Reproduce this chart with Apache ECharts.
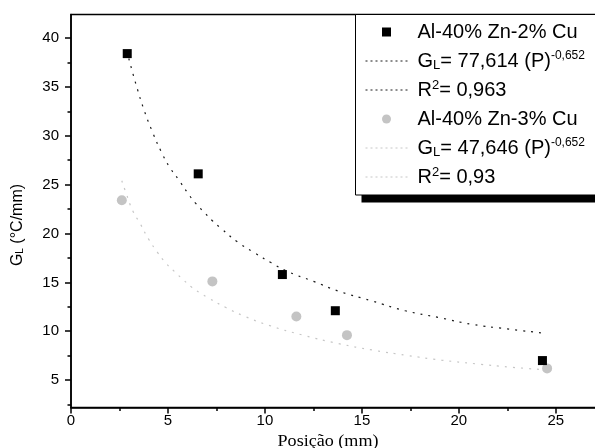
<!DOCTYPE html>
<html>
<head>
<meta charset="utf-8">
<script src="https://cdn.jsdelivr.net/npm/echarts@6/dist/echarts.min.js"></script>
<style>
html,body{margin:0;padding:0;background:#fff;}
#chart{width:595px;height:448px;}
</style>
</head>
<body>
<div id="chart"></div>
<script>
// Measured points, alloy Al-40% Zn-2% Cu
const sqX = [2.90, 6.56, 10.90, 13.63, 24.31];
const sqY = [38.4, 26.1, 15.8, 12.1, 7.0];
// Measured points, alloy Al-40% Zn-3% Cu
const ciX = [2.62, 7.29, 11.62, 14.23, 24.55];
const ciY = [23.4, 15.1, 11.5, 9.6, 6.2];
// Fitted curve, 2% Cu
const fitAX = [2.98, 3.36, 3.79, 4.24, 4.67, 5.08, 5.55, 6.00, 6.42, 6.85, 7.29, 7.75, 8.61, 9.48, 10.33, 11.19, 12.51, 13.80, 15.52, 17.24, 18.98, 20.70, 22.46, 24.23];
const fitAY = [37.9, 35.2, 32.5, 30.2, 28.3, 26.8, 25.5, 24.2, 23.1, 22.2, 21.3, 20.5, 19.1, 18.0, 17.0, 16.1, 15.1, 14.1, 13.1, 12.1, 11.4, 10.7, 10.25, 9.84];
// Fitted curve, 3% Cu
const fitBX = [2.62, 2.81, 3.19, 3.57, 4.01, 4.45, 4.88, 5.34, 5.77, 6.23, 6.67, 7.09, 8.01, 8.87, 10.21, 11.96, 13.77, 15.57, 17.33, 19.10, 20.87, 22.63, 24.55];
const fitBY = [25.4, 24.3, 22.3, 21.0, 19.4, 18.1, 17.0, 16.1, 15.3, 14.5, 13.9, 13.4, 12.4, 11.6, 10.6, 9.6, 8.75, 8.07, 7.53, 7.05, 6.67, 6.33, 6.05];
// Tick values
const yTicks = [5, 10, 15, 20, 25, 30, 35, 40];
const yMinorTicks = [2.5, 7.5, 12.5, 17.5, 22.5, 27.5, 32.5, 37.5];
// Legend / series names
const names = ['Al-40% Zn-2% Cu', 'fitA', 'r2A', 'Al-40% Zn-3% Cu', 'fitB', 'r2B'];
const legendTexts = {
  'Al-40% Zn-2% Cu': 'Al-40% Zn-2% Cu',
  'fitA': 'G{sub|L}= 77,614 (P){sup|-0,652}',
  'r2A': 'R{sup2|2}= 0,963',
  'Al-40% Zn-3% Cu': 'Al-40% Zn-3% Cu',
  'fitB': 'G{sub|L}= 47,646 (P){sup|-0,652}',
  'r2B': 'R{sup2|2}= 0,93'
};

const pairs = (xs, ys) => xs.map((x, i) => [x, ys[i]]);
const SANS = 'Liberation Sans, Arial, sans-serif';
const blackDot = {color: '#1a1a1a', width: 1.2, type: [2, 6]};
const grayDot = {color: '#c6c6c6', width: 1.2, type: [2, 6]};
const blackDotLeg = {color: '#1a1a1a', width: 1, type: [2, 3]};
const grayDotLeg = {color: '#c6c6c6', width: 1, type: [2, 3]};
const squarePath = 'path://M0,0L10,0L10,10L0,10Z';
const noSymbol = {color: 'rgba(0,0,0,0)', borderColor: 'rgba(0,0,0,0)', borderWidth: 0};

const chart = echarts.init(document.getElementById('chart'), null, {renderer: 'canvas'});
chart.setOption({
  animation: false,
  backgroundColor: '#fff',
  grid: {left: 71, right: -19, top: 14.5, bottom: 40.5, outerBoundsMode: 'none', containLabel: false, show: true, borderColor: '#000', borderWidth: 1.5, backgroundColor: 'transparent'},
  xAxis: {
    type: 'value', min: 0, max: 28, interval: 5,
    axisLine: {lineStyle: {color: '#000', width: 1.5}},
    axisTick: {length: 6, lineStyle: {color: '#000', width: 1.5}},
    minorTick: {show: true, splitNumber: 2, length: 3.5, lineStyle: {color: '#000', width: 1.5}},
    splitLine: {show: false},
    axisLabel: {margin: 6, fontFamily: SANS, fontSize: 15, color: '#000'}
  },
  yAxis: [{
    type: 'value', min: 2.2, max: 42.4,
    axisLine: {show: true, lineStyle: {color: '#000', width: 1.5}},
    axisTick: {show: true, customValues: yTicks, length: 6, lineStyle: {color: '#000', width: 1.5}},
    axisLabel: {customValues: yTicks, margin: 12, fontFamily: SANS, fontSize: 15, color: '#000'},
    splitLine: {show: false}
  }, {
    type: 'value', min: 2.2, max: 42.4, position: 'left',
    axisLine: {show: false},
    axisTick: {show: true, customValues: yMinorTicks, length: 3.5, lineStyle: {color: '#000', width: 1.5}},
    axisLabel: {show: false},
    splitLine: {show: false}
  }],
  legend: {
    orient: 'vertical', left: 355, top: 14, z: 10,
    padding: [7, 10, 7, 10],
    itemWidth: 42, itemHeight: 9, itemGap: 7,
    backgroundColor: 'transparent', borderWidth: 0,
    data: [
      {name: names[0]},
      {name: names[1], itemStyle: noSymbol, lineStyle: blackDotLeg},
      {name: names[2], itemStyle: noSymbol, lineStyle: blackDotLeg},
      {name: names[3]},
      {name: names[4], itemStyle: noSymbol, lineStyle: grayDotLeg},
      {name: names[5], itemStyle: noSymbol, lineStyle: grayDotLeg}
    ],
    formatter: (n) => legendTexts[n],
    textStyle: {
      fontFamily: SANS, fontSize: 20, lineHeight: 22, color: '#000', padding: [0, 0, 0, 5],
      rich: {
        sub: {fontFamily: SANS, fontSize: 13, lineHeight: 1, verticalAlign: 'bottom', color: '#000'},
        sup: {fontFamily: SANS, fontSize: 12, lineHeight: 13, verticalAlign: 'top', color: '#000'},
        sup2: {fontFamily: SANS, fontSize: 13, lineHeight: 13, verticalAlign: 'top', color: '#000'}
      }
    }
  },
  graphic: [{
    type: 'rect', z: 1,
    shape: {x: 361.5, y: 21.5, width: 300, height: 181},
    style: {fill: '#000'}
  }, {
    type: 'rect', z: 2,
    shape: {x: 355.5, y: 14.5, width: 300, height: 180.5},
    style: {fill: '#fff', stroke: '#000', lineWidth: 1}
  }, {
    type: 'text', x: 17.5, y: 225, rotation: Math.PI / 2,
    style: {
      text: 'G{sub|L} (°C/mm)', fontFamily: SANS, fontSize: 16, fill: '#000',
      align: 'center', verticalAlign: 'middle',
      rich: {sub: {fontFamily: SANS, fontSize: 10, lineHeight: 1, verticalAlign: 'bottom', fill: '#000'}}
    }
  }, {
    type: 'text', x: 328, y: 442, scaleX: 1.13,
    style: {text: 'Posição (mm)', fontFamily: 'Liberation Serif, Times New Roman, serif', fontSize: 16, fill: '#000', align: 'center', verticalAlign: 'middle'}
  }],
  series: [
    {name: names[0], type: 'scatter', data: pairs(sqX, sqY), symbol: squarePath, symbolKeepAspect: true, symbolSize: 9, itemStyle: {color: '#000', opacity: 1}, z: 5},
    {name: names[1], type: 'line', data: pairs(fitAX, fitAY), smooth: true, symbol: 'none', lineStyle: blackDot, itemStyle: {color: '#1a1a1a'}, z: 3},
    {name: names[2], type: 'line', data: [], symbol: 'none', lineStyle: blackDot, itemStyle: {color: '#1a1a1a'}},
    {name: names[3], type: 'scatter', data: pairs(ciX, ciY), symbol: 'circle', symbolSize: 10, itemStyle: {color: '#c4c4c4', opacity: 1}, z: 4},
    {name: names[4], type: 'line', data: pairs(fitBX, fitBY), smooth: true, symbol: 'none', lineStyle: grayDot, itemStyle: {color: '#c6c6c6'}, z: 3},
    {name: names[5], type: 'line', data: [], symbol: 'none', lineStyle: grayDot, itemStyle: {color: '#c6c6c6'}}
  ]
});
</script>
</body>
</html>
